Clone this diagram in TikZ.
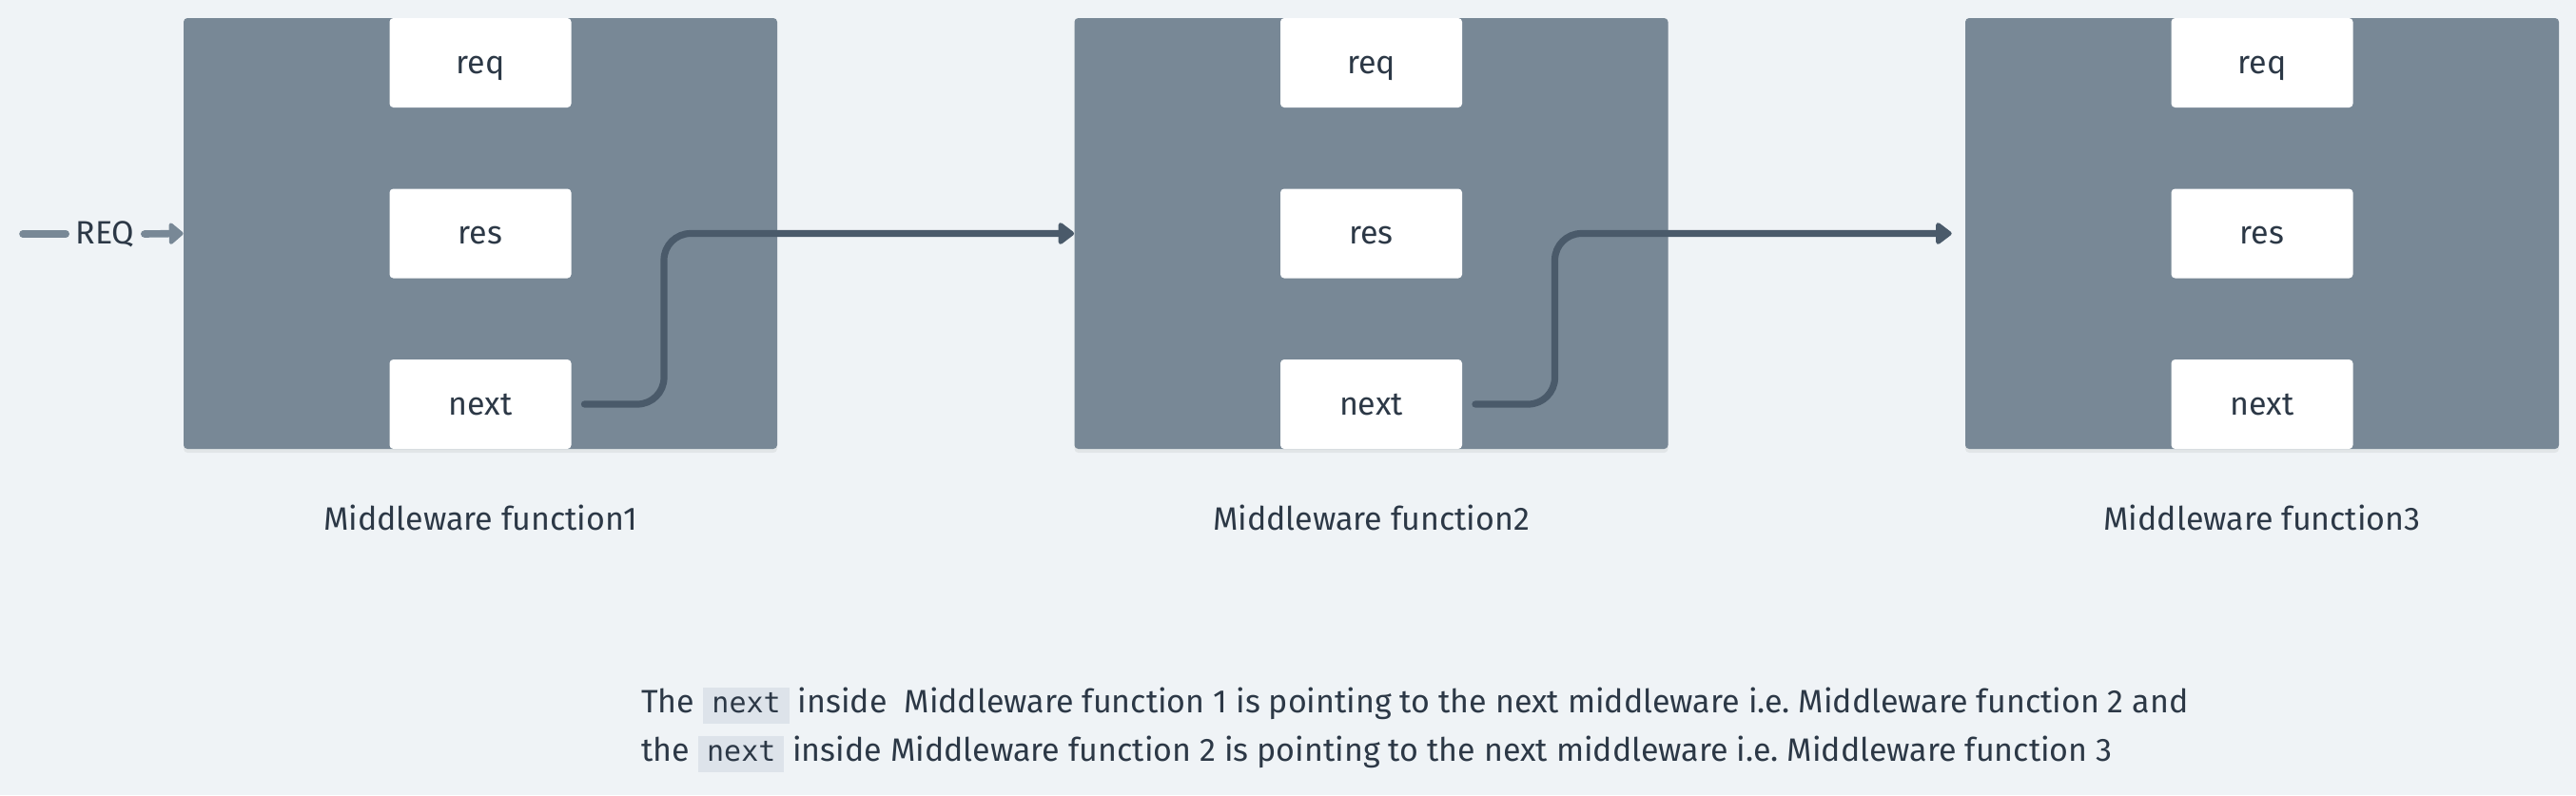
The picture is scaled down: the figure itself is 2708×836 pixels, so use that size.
\documentclass[tikz,border=0pt]{standalone}
\usepackage{fontspec}
\setmainfont{Fira Sans}
\setmonofont{DejaVu Sans Mono}
\usepackage{xcolor}
\definecolor{pagebg}{RGB}{239,243,246}
\definecolor{mwgray}{RGB}{120,136,150}
\definecolor{linkdark}{RGB}{74,90,106}
\definecolor{inkdark}{RGB}{44,56,70}
\definecolor{codebg}{RGB}{221,227,234}
\usetikzlibrary{arrows.meta,positioning,shadows}
\newcommand{\inlinecode}[1]{{\setlength{\fboxsep}{0pt}\colorbox{codebg}{\rule[-6pt]{0pt}{19pt}\hspace{4.5pt}\fontsize{15}{18}\selectfont\ttfamily #1\hspace{4.5pt}}}}
\frenchspacing

\begin{document}
\begin{tikzpicture}[x=0.5pt,y=-0.5pt,
  mwbox/.style={fill=mwgray,rounded corners=2pt,minimum width=312pt,minimum height=226.5pt,inner sep=0pt,drop shadow={shadow xshift=0pt,shadow yshift=-2pt,opacity=0.12}},
  field/.style={fill=white,rounded corners=2pt,minimum width=95.5pt,minimum height=47pt,inner sep=0pt,text height=11pt,text depth=0pt,font=\fontsize{17}{20}\selectfont,text=inkdark},
  caption/.style={font=\fontsize{17}{20}\selectfont,text=inkdark},
  note/.style={font=\fontsize{17}{20}\selectfont,text=inkdark,inner sep=0pt,anchor=base west},
  link/.style={draw=linkdark,line width=3.6pt,line cap=round,rounded corners=14pt,-{Triangle[length=9pt,width=13pt,round]}},
  inlink/.style={draw=mwgray,line width=3.8pt,line cap=round}
]
  \fill[pagebg] (0,0) rectangle (2708,836);

  % Function 1
  \node[mwbox] (mw1) at (505,245.5) {};
  \node[field] (req1) at (505,66) {req};
  \node[field] (res1) at (505,245.5) {res};
  \node[field] (next1) at (505,425) {next};
  \node[caption] (cap1) at (505,544) {Middleware function1};

  % Function 2
  \node[mwbox] (mw2) at (1441.5,245.5) {};
  \node[field] (req2) at (1441.5,66) {req};
  \node[field] (res2) at (1441.5,245.5) {res};
  \node[field] (next2) at (1441.5,425) {next};
  \node[caption] (cap2) at (1441.5,544) {Middleware function2};

  % Function 3
  \node[mwbox] (mw3) at (2378,245.5) {};
  \node[field] (req3) at (2378,66) {req};
  \node[field] (res3) at (2378,245.5) {res};
  \node[field] (next3) at (2378,425) {next};
  \node[caption] (cap3) at (2378,544) {Middleware function3};

  % incoming request
  \coordinate (reqstart) at (24,246);
  \node[caption,inner xsep=5pt] (reqlbl) at (110.5,246) {REQ};
  \draw[inlink] (reqstart) -- (reqlbl.west);
  \draw[inlink,-{Triangle[length=8pt,width=13pt,round]}] (reqlbl.east) -- (mw1.west);

  % next pointers
  \coordinate (bend1) at (698,245.5);
  \coordinate (bend2) at (1634.5,245.5);
  \draw[link] ([xshift=6.75pt]next1.east) -| (bend1) -- (mw2.west);
  \draw[link] ([xshift=6.75pt]next2.east) -| (bend2) -- ([xshift=-7pt]mw3.west);

  % explanation
  \node[note] (note1) at (674,749) {The \inlinecode{next} inside\ \ Middleware function 1 is pointing to the next middleware i.e. Middleware function 2 and};
  \node[note] (note2) at (674,800) {the \inlinecode{next} inside Middleware function 2 is pointing to the next middleware i.e. Middleware function 3};
\end{tikzpicture}
\end{document}
